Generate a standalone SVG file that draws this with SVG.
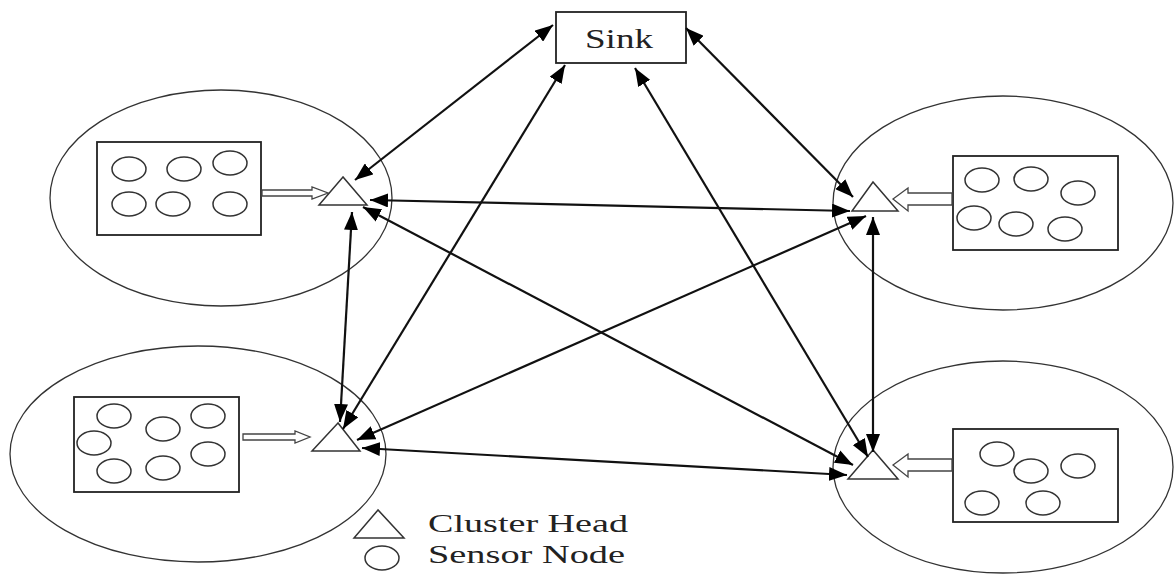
<svg xmlns="http://www.w3.org/2000/svg" width="1175" height="575" viewBox="0 0 1175 575">
<defs>
<marker id="ah" viewBox="0 0 18 14" refX="18" refY="7" markerWidth="18" markerHeight="14" markerUnits="userSpaceOnUse" orient="auto-start-reverse">
<path d="M0,0 L18,7 L0,14 z" fill="#000"/>
</marker>
</defs>
<style>
.cl{fill:none;stroke:#333;stroke-width:1.3}
.bx{fill:#fff;stroke:#222;stroke-width:1.8}
.sn{fill:none;stroke:#333;stroke-width:1.5}
.ch{fill:#fff;stroke:#333;stroke-width:1.5}
.ho{fill:#fff;stroke:#444;stroke-width:1.3}
.ln{stroke:#111;stroke-width:2.2;fill:none;marker-start:url(#ah);marker-end:url(#ah)}
.tx{font-family:"Liberation Serif","Times New Roman",serif;font-size:28px;fill:#222}
.lg{font-family:"Liberation Serif","Times New Roman",serif;font-size:25px;fill:#222}
</style>
<rect width="1175" height="575" fill="#fff"/>

<g id="sink">
<rect x="556" y="12" width="130" height="51" class="bx"/>
<text x="585" y="48" class="tx" textLength="68" lengthAdjust="spacingAndGlyphs">Sink</text>
</g>

<g id="cluster-tl">
<ellipse cx="221" cy="198" rx="171" ry="108" class="cl"/>
<rect x="97" y="142" width="164" height="93" class="bx"/>
<ellipse cx="129" cy="169" rx="17" ry="12" class="sn"/>
<ellipse cx="184" cy="169" rx="17" ry="12" class="sn"/>
<ellipse cx="230" cy="163" rx="17" ry="12" class="sn"/>
<ellipse cx="129" cy="204" rx="17" ry="12" class="sn"/>
<ellipse cx="173" cy="204" rx="17" ry="12" class="sn"/>
<ellipse cx="230" cy="204" rx="17" ry="12" class="sn"/>
<path d="M262,190 L312,190 L312,187 L328,193 L312,199 L312,196 L262,196 z" class="ho"/>
<polygon points="343,177 319,205 367,205" class="ch"/>
</g>

<g id="cluster-tr">
<ellipse cx="1003" cy="203" rx="170" ry="107" class="cl"/>
<rect x="953" y="156" width="165" height="94" class="bx"/>
<ellipse cx="982" cy="180" rx="17" ry="12" class="sn"/>
<ellipse cx="1031" cy="179" rx="17" ry="12" class="sn"/>
<ellipse cx="1078" cy="193" rx="17" ry="12" class="sn"/>
<ellipse cx="974" cy="218" rx="17" ry="12" class="sn"/>
<ellipse cx="1016" cy="224" rx="17" ry="12" class="sn"/>
<ellipse cx="1065" cy="229" rx="17" ry="12" class="sn"/>
<path d="M952,193 L908,193 L908,188 L893,199 L908,211 L908,205 L952,205 z" class="ho"/>
<polygon points="873,182 852,211 898,211" class="ch"/>
</g>

<g id="cluster-bl">
<ellipse cx="198" cy="454" rx="188" ry="108" class="cl"/>
<rect x="74" y="397" width="165" height="95" class="bx"/>
<ellipse cx="114" cy="416" rx="17" ry="12" class="sn"/>
<ellipse cx="94" cy="443" rx="17" ry="12" class="sn"/>
<ellipse cx="163" cy="429" rx="17" ry="12" class="sn"/>
<ellipse cx="208" cy="416" rx="17" ry="12" class="sn"/>
<ellipse cx="208" cy="454" rx="17" ry="12" class="sn"/>
<ellipse cx="114" cy="471" rx="17" ry="12" class="sn"/>
<ellipse cx="163" cy="468" rx="17" ry="12" class="sn"/>
<path d="M243,434 L295,434 L295,431 L310,437 L295,443 L295,440 L243,440 z" class="ho"/>
<polygon points="338,423 312,451 360,451" class="ch"/>
</g>

<g id="cluster-br">
<ellipse cx="1003" cy="467" rx="170" ry="106" class="cl"/>
<rect x="953" y="429" width="165" height="93" class="bx"/>
<ellipse cx="997" cy="454" rx="17" ry="12" class="sn"/>
<ellipse cx="1031" cy="471" rx="17" ry="12" class="sn"/>
<ellipse cx="1078" cy="466" rx="17" ry="12" class="sn"/>
<ellipse cx="982" cy="503" rx="17" ry="12" class="sn"/>
<ellipse cx="1043" cy="503" rx="17" ry="12" class="sn"/>
<path d="M952,459 L908,459 L908,454 L893,465 L908,477 L908,471 L952,471 z" class="ho"/>
<polygon points="873,450 848,479 898,479" class="ch"/>
</g>

<g id="legend">
<polygon points="378,510 354,538 404,538" class="ch"/>
<ellipse cx="382" cy="558" rx="17" ry="12" class="sn"/>
<text x="428" y="532" class="lg" textLength="200" lengthAdjust="spacingAndGlyphs">Cluster Head</text>
<text x="428" y="563" class="lg" textLength="197" lengthAdjust="spacingAndGlyphs">Sensor Node</text>
</g>

<g id="connectors">
<line x1="553" y1="25" x2="355" y2="180" class="ln"/>
<line x1="565" y1="65" x2="343" y2="429" class="ln"/>
<line x1="635" y1="68" x2="868" y2="457" class="ln"/>
<line x1="686" y1="28" x2="853" y2="197" class="ln"/>
<line x1="370" y1="200" x2="850" y2="211" class="ln"/>
<line x1="363" y1="207" x2="853" y2="465" class="ln"/>
<line x1="352" y1="212" x2="340" y2="422" class="ln"/>
<line x1="866" y1="216" x2="357" y2="440" class="ln"/>
<line x1="873" y1="217" x2="873" y2="452" class="ln"/>
<line x1="362" y1="448" x2="847" y2="475" class="ln"/>
</g>
</svg>
